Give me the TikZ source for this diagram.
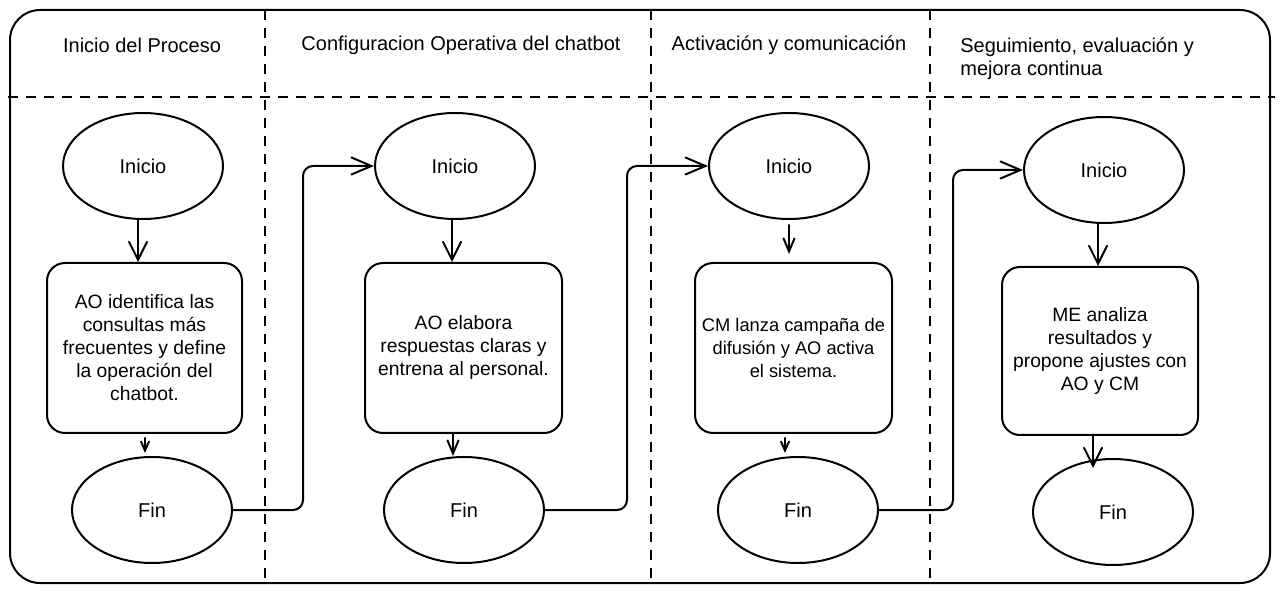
\documentclass[tikz,border=0pt]{standalone}
\usepackage{fontspec}
\setmainfont{Liberation Sans}
\usetikzlibrary{arrows.meta,shapes.geometric,calc}
\begin{document}
\begin{tikzpicture}[x=1pt,y=-1pt,
  line width=2pt, line cap=round, line join=round,
  every node/.style={font=\fontsize{20}{23}\selectfont},
  oval/.style={draw, ellipse, minimum width=160pt, minimum height=106pt, inner sep=0pt},
  procbox/.style={draw, rounded corners=18pt, align=center, inner sep=0pt, minimum width=197pt, minimum height=170pt, font=\fontsize{19.3}{23}\selectfont},
  lane/.style={line width=1.7pt, line cap=butt, dash pattern=on 10pt off 8pt},
  bigarr/.style={-{Straight Barb[length=18pt,width=18pt,line cap=round]}},
  midarr/.style={-{Straight Barb[length=13pt,width=11pt,line cap=round]}},
  smallarr/.style={-{Straight Barb[length=9pt,width=8pt,line cap=round]}},
  conn/.style={rounded corners=10pt, -{Straight Barb[length=20pt,width=17pt,line cap=round]}}
]
\useasboundingbox (0,0) rectangle (1280,593);
% frame and lanes
\draw[rounded corners=30pt] (10,10) rectangle (1270,583);
\draw[lane] (8,97) -- (1275,97);
\draw[lane] (265,10) -- (265,583);
\draw[lane] (651,10) -- (651,583);
\draw[lane] (930,10) -- (930,583);
% titles
\node (t1) at (142,45) {Inicio del Proceso};
\node (t2) at (461,45) {Configuracion Operativa del chatbot};
\node (t3) at (789,45) {Activación y comunicación};
\node[anchor=west, align=left] (t4) at (956,59) {Seguimiento, evaluación y\\mejora continua};
% column 1
\node[oval] (ini1) at (143,166) {Inicio};
\node[procbox, minimum width=195pt] (box1) at (144.5,348) {AO identifica las\\consultas más\\frecuentes y define\\la operación del\\chatbot.};
\node[oval] (fin1) at (152,510) {Fin};
% column 2
\node[oval] (ini2) at (455,166) {Inicio};
\node[procbox] (box2) at (463.5,348) {AO elabora\\respuestas claras y\\entrena al personal.};
\node[oval] (fin2) at (464,510) {Fin};
% column 3
\node[oval] (ini3) at (789,166) {Inicio};
\node[procbox, font=\fontsize{18.3}{23}\selectfont] (box3) at (793.5,348) {CM lanza campaña de\\difusión y AO activa\\el sistema.};
\node[oval] (fin3) at (798,510) {Fin};
% column 4
\node[oval] (ini4) at (1104,170) {Inicio};
\node[procbox, minimum width=196pt, minimum height=168pt] (box4) at (1100,351) {ME analiza\\resultados y\\propone ajustes con\\AO y CM};
\node[oval] (fin4) at (1113,512) {Fin};
% vertical arrows
\draw[bigarr] ($(ini1.south)+(-5,0)$) -- ($(box1.north)+(-6.5,0)$);
\draw[smallarr, shorten <=4pt, shorten >=3pt] ($(box1.south)+(0.5,0)$) -- ($(box1.south |- fin1.north)+(0.5,0)$);
\draw[bigarr] ($(ini2.south)+(-3,0)$) -- ($(box2.north)+(-11.5,0)$);
\draw[midarr] ($(box2.south)+(-10.5,0)$) -- ($(box2.south |- fin2.north)+(-10.5,0)$);
\draw[midarr, shorten <=5pt, shorten >=8pt] (ini3.south) -- (ini3.south |- box3.north);
\draw[smallarr, shorten <=4pt, shorten >=3pt] ($(box3.south)+(-8.5,0)$) -- ($(box3.south |- fin3.north)+(-8.5,0)$);
\draw[bigarr] ($(ini4.south)+(-6,0)$) -- ($(box4.north)+(-2,0)$);
\draw[bigarr, shorten >=-10pt] ($(box4.south)+(-7,0)$) -- ($(box4.south |- fin4.north)+(-7,0)$);
% connectors between lanes
\draw[conn] (fin1.east) -- ++(70,0) |- (ini2.west);
\draw[conn] (fin2.east) -- ++(82,0) |- (ini3.west);
\draw[conn] (fin3.east) -- ++(74,0) |- (ini4.west);
\end{tikzpicture}
\end{document}
